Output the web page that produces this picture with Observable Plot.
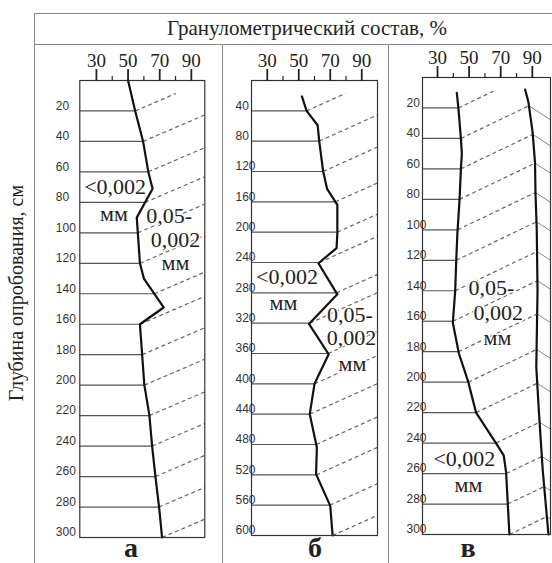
<!DOCTYPE html>
<html><head><meta charset="utf-8">
<script src="https://cdn.jsdelivr.net/npm/d3@7"></script>
<script src="https://cdn.jsdelivr.net/npm/@observablehq/plot@0.6"></script>
<style>
body{margin:0;background:#fff;}
#root{position:relative;width:552px;height:563px;overflow:hidden;background:#fff;font-family:"Liberation Serif",serif;color:#222;}
.abs{position:absolute;white-space:nowrap;}
.hl{position:absolute;height:0;border-top:1.4px solid #8a8a8a;}
.vl{position:absolute;width:0;border-left:1.4px solid #8a8a8a;}
</style></head><body><div id="root"></div>
<script>
// ---------- data ----------
const title = "Гранулометрический состав, %";
const yTitle = "Глубина опробования, см";
const panelNames = ["а", "б", "в"];
const xMajor = [30, 50, 70, 90];
const xMinor = [40, 60, 80];

// panel а : clay (<0,002 mm) boundary
const depthA = [0, 20, 40, 60, 71, 90, 120, 130, 149, 160, 200, 220, 240, 260, 280, 300];
const clayA  = [50, 54.5, 59.5, 62.8, 65.5, 55.5, 57.5, 60, 72.5, 57.5, 60.3, 63.5, 65.2, 67.3, 69.6, 71.5];
const ticksA = [20, 40, 60, 80, 100, 120, 140, 160, 180, 200, 220, 240, 260, 280, 300];

// panel б
const depthB = [21, 40, 59, 80, 120, 143, 164, 202, 221, 241, 282, 321, 361, 400, 440, 484, 519, 561, 600];
const clayB  = [52, 55, 62, 63, 65.5, 68, 74.5, 74.5, 74, 62.5, 74.5, 56.5, 69, 60, 57, 61.5, 61, 70, 71.5];
const ticksB = [40, 80, 120, 160, 200, 240, 280, 320, 360, 400, 440, 480, 520, 560, 600];

// panel в : clay boundary and silt/sand boundary
const depthV = [10, 20, 40, 50, 60, 81, 102, 121, 140, 161, 181, 200, 220, 240, 248, 259, 300];
const clayV  = [42.2, 43.2, 44.8, 45.4, 44.8, 43.9, 42.6, 41.8, 41.2, 39.7, 43.5, 49.5, 54.4, 67, 71.9, 73.4, 75.5];
const depthS = [8, 16, 36, 56, 76, 100, 140, 190, 220, 258, 300];
const sandV  = [85.5, 87.5, 90.2, 91.7, 92, 92.8, 93.3, 92.5, 94.2, 96.6, 100.2];
const ticksV = [20, 40, 60, 80, 100, 120, 140, 160, 180, 200, 220, 240, 260, 280, 300];

// annotation labels (data coordinates)
const annA = [{x: 41.8, y: 70, t: "<0,002"}, {x: 75.9, y: 88.6, t: "0,05-"}, {x: 80, y: 104.4, t: "0,002"}];
const mmA  = [{x: 41.1, y: 87.3}, {x: 80, y: 120.1}];
const annB = [{x: 42.5, y: 258.5, t: "<0,002"}, {x: 82.5, y: 308.6, t: "0,05-"}, {x: 83.5, y: 339, t: "0,002"}];
const mmB  = [{x: 40.3, y: 292.8}, {x: 84.1, y: 373.2}];
const annV = [{x: 64.1, y: 137.9, t: "0,05-"}, {x: 68.5, y: 154.3, t: "0,002"}, {x: 47, y: 250.1, t: "<0,002"}];
const mmV  = [{x: 67.9, y: 170.7}, {x: 49.6, y: 267.8}];

const SERIF = "Liberation Serif";

// ---------- helpers ----------
function interp(ds, vs) {
  return d => {
    if (d <= ds[0]) return vs[0];
    if (d >= ds[ds.length - 1]) return vs[vs.length - 1];
    const i = d3.bisectRight(ds, d);
    const t = (d - ds[i - 1]) / (ds[i] - ds[i - 1]);
    return vs[i - 1] + t * (vs[i] - vs[i - 1]);
  };
}

const panels = [
  {left: 34, top: 44, width: 188, height: 519, mL: 45.3, mR: 17.7, mT: 36, mB: 26, xd: [19.5, 98.5], dmax: 300,
   depth: depthA, clay: clayA, ticks: ticksA, labelDx: -24, ann: annA, mm: mmA, slope: 0.43},
  {left: 222, top: 44, width: 166, height: 519, mL: 29, mR: 11, mT: 36, mB: 28, xd: [20, 100], dmax: 600,
   depth: depthB, clay: clayB, ticks: ticksB, labelDx: -16, ann: annB, mm: mmB, slope: 0.45},
  {left: 388, top: 44, width: 164, height: 519, mL: 34, mR: 2, mT: 33, mB: 29, xd: [20.5, 101.5], dmax: 300,
   depth: depthV, clay: clayV, sDepth: depthS, sand: sandV, ticks: ticksV, labelDx: -16, ann: annV, mm: mmV, slope: 0.48, sandSlope: 0.65}
];

const root = document.getElementById("root");
function addDiv(cls, style, text) {
  const d = document.createElement("div");
  d.className = cls;
  Object.assign(d.style, style);
  if (text) d.textContent = text;
  root.appendChild(d);
  return d;
}

// frame
addDiv("hl", {left: "34px", top: "13px", width: "600px"});
addDiv("hl", {left: "34px", top: "44px", width: "600px"});
addDiv("vl", {left: "34px", top: "13px", height: "560px"});
addDiv("vl", {left: "222px", top: "44px", height: "530px"});
addDiv("vl", {left: "388px", top: "44px", height: "530px"});
addDiv("abs", {left: "34px", top: "13px", width: "546px", height: "31px", lineHeight: "31px", textAlign: "center", fontSize: "21px"}, title);
addDiv("abs", {left: "-134px", top: "282px", width: "300px", height: "22px", lineHeight: "22px", textAlign: "center", fontSize: "20px", transform: "rotate(-90deg)"}, yTitle);

panels.forEach((p, k) => {
  const W = p.width - p.mL - p.mR, H = p.height - p.mT - p.mB;
  const kx = W / (p.xd[1] - p.xd[0]), ky = H / p.dmax;
  const clay = interp(p.depth, p.clay);
  const sand = p.sand ? interp(p.sDepth, p.sand) : null;
  const rate = p.slope * kx / ky;
  const topClip = 13 / ky;
  const lineDepths = p.ticks.filter(d => d < p.dmax);
  const links = [], sandLinks = [];
  for (const d of p.ticks) {
    const x0 = clay(d);
    let x = x0, y = d, hit = false;
    const step = 0.02;
    while (true) {
      const nx = x + step, ny = y - rate * step;
      if (ny < topClip || nx >= p.xd[1]) break;
      if (sand && nx >= sand(ny)) { hit = true; break; }
      x = nx; y = ny;
    }
    links.push({x1: x0, y1: d, x2: x, y2: y});
    if (hit) {
      const r2 = p.sandSlope * kx / ky;
      let x2 = p.xd[1], y2 = y + r2 * (x2 - x);
      if (y2 > p.dmax) { y2 = p.dmax; x2 = x + (y2 - y) / r2; }
      sandLinks.push({x1: x, y1: y, x2, y2});
    }
  }
  const clayPts = p.depth.map((d, i) => ({d, v: p.clay[i]}));
  const sandPts = p.sand ? p.sDepth.map((d, i) => ({d, v: p.sand[i]})) : [];

  const chart = Plot.plot({
    width: p.width, height: p.height,
    marginLeft: p.mL, marginRight: p.mR, marginTop: p.mT, marginBottom: p.mB,
    x: {domain: p.xd},
    y: {domain: [0, p.dmax], reverse: true, axis: null},
    style: {background: "transparent", overflow: "visible", fontFamily: "Liberation Sans"},
    marks: [
      Plot.ruleY(lineDepths, {y: d => d, x1: () => p.xd[0], x2: d => clay(d), stroke: "#555", strokeWidth: 1.2}),
      Plot.link(links, {x1: "x1", y1: "y1", x2: "x2", y2: "y2", stroke: "#666", strokeWidth: 1.2, strokeDasharray: "4,3"}),
      Plot.link(sandLinks, {x1: "x1", y1: "y1", x2: "x2", y2: "y2", stroke: "#888", strokeWidth: 1}),
      Plot.line(clayPts, {x: "v", y: "d", stroke: "#111", strokeWidth: 2.2}),
      Plot.line(sandPts, {x: "v", y: "d", stroke: "#111", strokeWidth: 2.2}),
      Plot.frame({stroke: "#333", strokeWidth: 1.2}),
      Plot.axisX(xMajor, {anchor: "top", tickSize: 12, tickPadding: 2, fontSize: 19, fontFamily: SERIF, strokeWidth: 1.8, color: "#222"}),
      Plot.axisX(xMinor, {anchor: "top", tickSize: 5, tickFormat: () => "", strokeWidth: 1.2, color: "#222"}),
      Plot.text(p.ticks, {y: d => d, text: d => String(d), frameAnchor: "left", dx: p.labelDx, dy: -5, fontSize: 12, fill: "#333"}),
      Plot.text(p.ann, {x: "x", y: "y", text: "t", fontSize: 22, fontFamily: SERIF, fill: "#222", stroke: "white", strokeWidth: 3}),
      Plot.text(p.mm, {x: "x", y: "y", text: () => "мм", fontSize: 22, fontFamily: SERIF, fill: "#222", stroke: "white", strokeWidth: 3})
    ]
  });
  const holder = addDiv("abs", {left: p.left + "px", top: p.top + "px", width: p.width + "px", height: p.height + "px"});
  holder.appendChild(chart);
});

// panel letters
[131, 315, 468].forEach((cx, i) => {
  addDiv("abs", {left: (cx - 20) + "px", top: "533px", width: "40px", height: "30px", lineHeight: "30px", textAlign: "center", fontSize: "28px", fontWeight: "bold"}, panelNames[i]);
});
</script>
</body></html>
